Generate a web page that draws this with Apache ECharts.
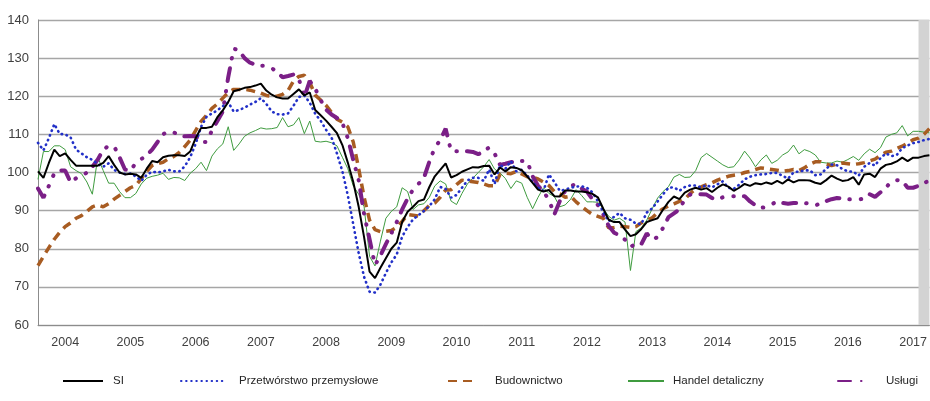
<!DOCTYPE html>
<html>
<head>
<meta charset="utf-8">
<script src="https://cdn.jsdelivr.net/npm/echarts@6/dist/echarts.min.js"></script>
<style>
html,body{margin:0;padding:0;background:#fff;}
#chart{width:930px;height:401px;}
</style>
</head>
<body>
<div id="chart"></div>
<script>
// Monthly categories: Aug 2003 .. Apr 2017
const startYear = 2003, startMonth = 8, monthCount = 165;
const categories = [];
for (let k = 0; k < monthCount; k++) {
  const m = startMonth - 1 + k;
  const y = startYear + Math.floor(m / 12);
  const mm = (m % 12) + 1;
  categories.push(y + '-' + (mm < 10 ? '0' + mm : '' + mm));
}

const seriesNames = ['SI', 'Przetwórstwo przemysłowe', 'Budownictwo', 'Handel detaliczny', 'Usługi'];

const siValues = [100.3,98.6,102.5,106,104.3,105,103.3,101.8,101.8,101.8,
101.8,101.8,102.5,104.3,102,100,99.5,99.7,99.5,98.6,
101,103,102.7,104,104.4,104.5,104.5,104.3,105.5,109,
111.7,111.7,112,114.5,116.3,118.5,121.3,121.7,122.2,122.4,
122.8,123.3,121.5,120.4,119.7,119.4,119.4,120.6,121.8,120.2,
121,116.4,115,113.6,112,110.3,107.2,102.6,97.5,91,
83,74,72.3,75,77.5,80,81.6,87,89.7,91,
92.5,92.9,96.2,99,100.7,102.4,98.7,99.3,100.2,100.8,
101.4,101.3,101.7,101.8,99.5,101.3,100.3,101.4,101.2,100.6,
99,97.3,95.5,95,95.4,93.8,93.7,95.3,95.3,95,
95,94.8,94.4,93.5,90.5,87.6,87,87,85,83.3,
83.8,85.2,87,87.5,88,90.3,92.3,93.7,93,94.7,
95.5,96,95.5,95.9,94.9,96,96.9,96.3,95.2,96,
97,96.5,97.2,96.9,97.4,97,97.8,97.1,98.2,97.4,
98,98,97.9,97.3,97,98,99.2,98.4,97.8,98,
98.8,96.8,99.5,99.7,98.8,101,102,102.3,102.9,103.9,
103,103.9,103.9,104.3,104.5];

const przetworstwoValues = [107.8,105.8,109,112.7,110.1,110,109.2,106,105,104,
103.3,102.2,101.5,102.4,100.7,100,99.6,99.7,99,97.8,
99.4,100.2,100,100.3,100.7,100.3,100.3,101.6,104,107.5,
112,114.6,115.5,116.3,117.4,118.4,116,116.4,117,117.8,
118.5,119.5,118,116,115.3,115.2,115.5,117.5,119.8,120.2,
118.3,115.4,113.6,111.2,109.2,105,100.3,94,86.4,78.8,
72.6,68.7,68.5,70.6,73.6,76.4,78.5,83.2,85.7,87.7,
88.8,89.9,91.2,93,96.2,95.7,93.4,94.1,96,97.9,
98.6,98.6,97.8,100.8,97,102,101,103,100.3,100.7,
99.2,97.5,96,95.2,99.5,97.5,95.2,95.5,96,96.3,
96.4,96,94.8,92.5,89.6,87.2,88.4,89.4,88,87.6,
86.6,86.5,89.5,90.6,92.4,94.3,96,96.1,95.2,96.2,
96.6,96.6,96.1,96.7,96.1,96.9,97.7,96,95.7,96.8,
98.2,98.9,99.3,99.5,99.6,99.9,99.9,99.1,98.4,100,
100.3,100.5,100.6,99.3,99.5,101,102.1,101.9,100.9,100.3,
100.2,99.2,101.5,102.5,101.8,103.8,105,104.3,104.6,106.4,
107.1,107.7,108,108.5,108.8];

const budownictwoValues = [75.6,78,80.3,82.5,84.3,85.8,86.8,88,88.7,89.8,
91,91.5,91,91.8,93,94,95,96,96.6,98.4,
100.3,101.8,102.3,102.7,103.6,104.2,105.3,106.8,108.5,111,
113.4,115,116.8,118,119.5,121,121.8,121.8,121.8,121.6,
121.2,120.8,120.2,120,120,120.5,121.5,124,125.2,125.5,
123.6,120.3,119,117.6,115.8,114,113.2,112,108,101,
93.5,87.5,85,84.5,84.6,84.8,85.6,87.2,89,88.8,
88.6,90,91.4,92,93.5,95.4,95.5,96.8,98,97.8,
97.6,97.4,97,96.5,96.5,99.5,99.8,99.7,100.3,99.6,
98.9,98.8,98.3,97.5,96.6,95,94.4,93.5,93.8,92.3,
91.1,90,89,88.5,88,85.5,85.6,85.9,85.8,85.6,
85.8,86.8,87.5,88.1,89.5,90.5,91.2,91.8,92.4,93,
94.5,95.7,96.2,96.8,97.3,98,98.5,99,99.3,99.5,
100,100.3,100.8,101.2,101,100.8,100.6,100.3,100.5,100.8,
100.5,101.2,102.2,102.8,102.8,102.2,101.8,102.2,102.5,102.3,
102.1,102.3,102.6,103,103.5,104.5,105.3,105.6,106.3,106.9,
107.7,108.6,109,110,111.5];

const handelValues = [98.2,105.5,105.5,107,107,106,101.5,100.5,99.7,97.5,
94.3,104,100.5,97.2,97.2,95,93.4,93.4,94.5,97,
98.5,99,99.3,99.8,98.2,98.7,98.6,97.9,99.8,101,
102.7,100.5,104.3,106.2,107.5,112,105.8,107.5,109.5,110.4,
111,111.7,111.4,111.5,111.8,114.4,112,112.5,114.4,110.2,
113.5,108.2,108,108.2,107.8,107,104,101,96.5,94.3,
91,78,75.5,82,88,89.8,91,96,95,90.3,
91.5,91.8,93.5,96.5,97.8,97,92.5,91.6,94.5,97,
98.5,100,101.5,103.4,100.9,99.9,98.4,95.8,97.8,97.2,
93.5,90.5,93.5,96,94.5,93.7,91,91.5,93,95.5,
94,92.3,92.3,92.2,90.5,88.5,87.5,88,87,74.3,
84.5,85.5,87.5,90.5,93.3,95,96.3,98.8,99.5,98.7,
98.8,100.5,103.9,105,104,103,102,101.3,101.5,103.3,
105.6,103.8,101.5,103.3,104.6,102.4,103.2,104.6,105.4,107.2,
104.9,106,105.5,104.6,102.7,102.5,102.5,103,102.7,103.4,
104.2,103.2,104.9,106.1,105.2,106.5,109.3,110,110.4,112.3,
109.6,110.8,110.8,110.6,110.4];

const uslugiValues = [95.8,93.4,96.5,99.8,100.5,100.5,97.4,98.5,99,100,
101.5,103.4,106,107,106.9,104,100.8,100.5,102.5,103.5,
104.5,106,108,110,110.8,110.5,109.8,109.5,109.6,109.5,
108,108,111,113.5,116,125,132.5,132,130,128.8,
128.3,128,128,127.4,126.3,125,125.3,125.7,124.5,119.8,
124,122,119,116.5,115.2,114.3,113,109,103.3,98,
89,82.5,75.7,78.2,81.2,84,87,90.3,93.2,95.5,
97,98.6,102.8,106.5,108.5,111.5,105.6,105.6,105.6,105.6,
105.4,104.8,105.5,106.6,105,102,102.3,102.7,103,103,
103,99,96.5,95,92.8,89,92.5,95.2,96.5,96.9,
95.8,95,93,91.5,89,86,84.2,83.5,82.4,80.5,
81.3,81.2,84,82.5,83,85.5,88.3,89.3,90.3,93,
94.2,94.3,94.3,94.2,93.3,93,93.5,93.8,93.8,93.8,
93.8,92.4,91.4,90.7,91,91.7,92.4,92,91.8,92,
92,92,91.8,91.3,92,92.5,93,93.3,93.2,93,
92.9,92.9,93.2,94.3,93.6,94.8,96,97.7,98,97.8,
96,96,96.5,97.3,97.8];

const yTicks = { min: 60, max: 140, interval: 10 };
const shadedFrom = categories[162], shadedTo = categories[164];

const FONT = "'Liberation Sans', Arial, sans-serif";
const colors = ['#000000', '#2230c8', '#a85c22', '#3f9b3f', '#7b1f87'];

const chart = echarts.init(document.getElementById('chart'), null, { renderer: 'canvas' });

function legendAt(name, left, width, pad) {
  return {
    data: [name], left: left, top: 370, itemWidth: width, itemHeight: 14,
    itemStyle: { opacity: 0 },
    textStyle: { fontFamily: FONT, fontSize: 11.5, color: '#262626', padding: [0, 0, 0, pad] },
    selectedMode: false
  };
}

const option = {
  animation: false,
  backgroundColor: '#ffffff',
  color: colors,
  grid: { left: 38, right: 0, top: 20, bottom: 76, containLabel: false },
  legend: [
    legendAt(seriesNames[0], 57, 40, 5),
    legendAt(seriesNames[1], 175, 42, 11),
    legendAt(seriesNames[2], 442, 26, 16),
    legendAt(seriesNames[3], 622, 36, 4),
    legendAt(seriesNames[4], 832, 33, 10)
  ],
  xAxis: {
    type: 'category',
    data: categories,
    boundaryGap: false,
    axisLine: { show: true, lineStyle: { color: '#8c8c8c', width: 1 } },
    axisTick: { show: false },
    axisLabel: {
      interval: function (idx, val) { return val.slice(5) === '01'; },
      formatter: function (val) { return val.slice(0, 4); },
      fontFamily: FONT, fontSize: 12.5, color: '#404040', margin: 11
    },
    splitLine: { show: false }
  },
  yAxis: {
    type: 'value',
    min: yTicks.min, max: yTicks.max, interval: yTicks.interval,
    axisLine: { show: true, lineStyle: { color: '#8c8c8c', width: 1 } },
    axisTick: { show: false },
    axisLabel: { fontFamily: FONT, fontSize: 13, color: '#404040', margin: 9 },
    splitLine: { show: true, lineStyle: { color: '#a6a6a6', width: 1.3 } }
  },
  series: [
    {
      name: 'shade', type: 'line', data: [], z: 1, silent: true,
      markArea: {
        silent: true,
        itemStyle: { color: '#d3d3d3' },
        data: [[{ xAxis: shadedFrom }, { xAxis: shadedTo }]]
      }
    },
    {
      name: seriesNames[3], type: 'line', data: handelValues, symbol: 'none', z: 3,
      itemStyle: { color: colors[3] },
      lineStyle: { color: colors[3], width: 1 }
    },
    {
      name: seriesNames[2], type: 'line', data: budownictwoValues, symbol: 'none', z: 4,
      itemStyle: { color: colors[2] },
      lineStyle: { color: colors[2], width: 3.5, type: [9, 6] }
    },
    {
      name: seriesNames[4], type: 'line', data: uslugiValues, symbol: 'none', z: 5,
      itemStyle: { color: colors[4] },
      lineStyle: { color: colors[4], width: 4, type: [13, 10, 0.5, 11, 0.5, 10], cap: 'round' }
    },
    {
      name: seriesNames[1], type: 'line', data: przetworstwoValues, symbol: 'none', z: 6,
      itemStyle: { color: colors[1] },
      lineStyle: { color: colors[1], width: 2.6, type: [0.5, 4.6], cap: 'round' }
    },
    {
      name: seriesNames[0], type: 'line', data: siValues, symbol: 'none', z: 7,
      itemStyle: { color: colors[0] },
      lineStyle: { color: colors[0], width: 2 }
    }
  ]
};
chart.setOption(option);
</script>
</body>
</html>
